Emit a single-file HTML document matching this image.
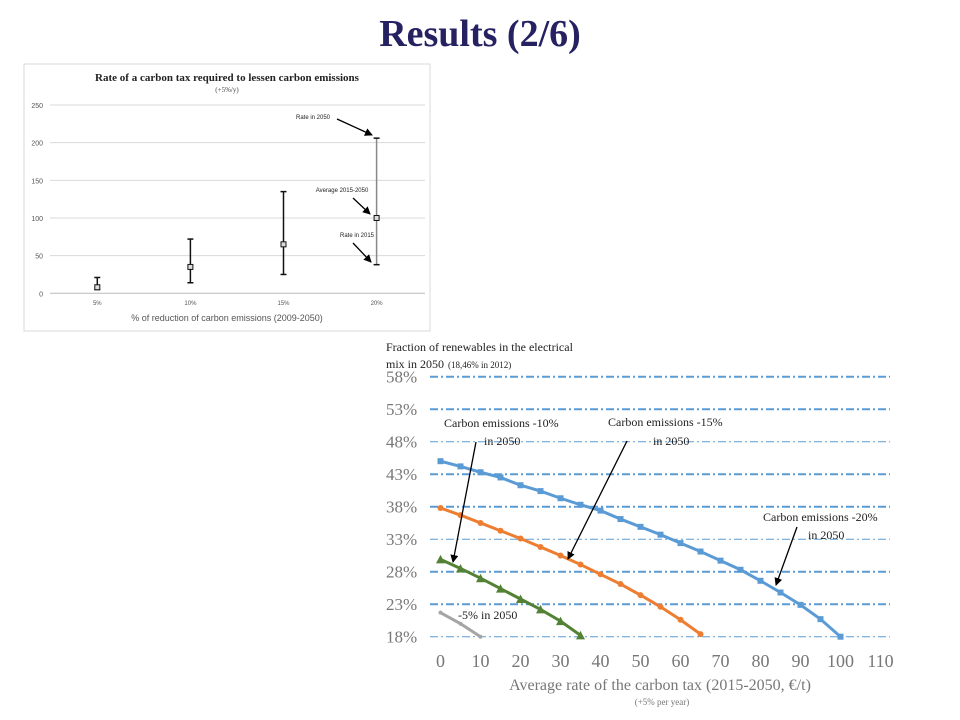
<!DOCTYPE html>
<html><head><meta charset="utf-8"><style>
html,body{margin:0;padding:0;background:#fff;width:960px;height:720px;overflow:hidden}
svg{display:block}
</style></head><body>
<svg id="s" width="960" height="720" xmlns="http://www.w3.org/2000/svg">
<defs>
<marker id="ah" markerWidth="8" markerHeight="8" refX="7" refY="4" orient="auto" markerUnits="userSpaceOnUse"><path d="M0,0 L8,4 L0,8 z" fill="#000"/></marker>
</defs>
<text x="480" y="46" text-anchor="middle" font-family="Liberation Serif, serif" font-weight="bold" font-size="38" fill="#262262">Results (2/6)</text>
<rect x="24" y="64" width="406" height="267" fill="#fff" stroke="#d9d9d9"/>
<text x="227" y="81" text-anchor="middle" font-family="Liberation Serif, serif" font-weight="bold" font-size="11" fill="#222">Rate of  a carbon tax required to lessen carbon emissions</text>
<text x="227" y="92" text-anchor="middle" font-family="Liberation Serif, serif" font-size="7" fill="#444">(+5%/y)</text>
<text x="227" y="321" text-anchor="middle" font-family="Liberation Sans, sans-serif" font-size="9" fill="#555">% of reduction of carbon emissions (2009-2050)</text>
<g id="c1"></g>
<g id="c2"></g>
</svg>
<script>
// Chart 1 data
const c1Categories = ["5%","10%","15%","20%"];
const c1Average = [8,35,65,100];
const c1Low = [5,14,25,38];
const c1High = [21,72,135,206];
const c1Ticks = [0,50,100,150,200,250];

// Chart 2 data
const c2X = [0,5,10,15,20,25,30,35,40,45,50,55,60,65,70,75,80,85,90,95,100];
const c2Blue = [45.0,44.2,43.3,42.5,41.3,40.4,39.3,38.3,37.4,36.1,34.9,33.7,32.4,31.1,29.7,28.3,26.6,24.8,22.9,20.7,18.0];
const c2Orange = [37.8,36.7,35.5,34.3,33.1,31.8,30.5,29.1,27.6,26.1,24.4,22.6,20.6,18.4];
const c2Green = [29.9,28.5,27.0,25.4,23.8,22.2,20.4,18.2];
const c2Gray = [21.7,20.0,18.0];
const c2YTicks = [18,23,28,33,38,43,48,53,58];
const c2XTicks = [0,10,20,30,40,50,60,70,80,90,100,110];

const NS="http://www.w3.org/2000/svg";
function mk(parent,tag,attrs){const e=document.createElementNS(NS,tag);for(const k in attrs)e.setAttribute(k,attrs[k]);parent.appendChild(e);return e;}

// ---- chart 1
const g1=document.getElementById('c1');
const y1=v=>293.3-v*188.3/250;
const x1=i=>97.3+i*93.1;
c1Ticks.forEach(t=>{
  const l=mk(g1,'line',{x1:50,x2:425,y1:y1(t),y2:y1(t),stroke:t===0?'#bbb':'#d9d9d9','stroke-width':1});
  
  
  const tx=mk(g1,'text',{x:43,y:y1(t)+3,'text-anchor':'end','font-family':'Liberation Sans, sans-serif','font-size':7,fill:'#555'});
  tx.textContent=t;
  
  
});
c1Categories.forEach((c,i)=>{
  const x=x1(i);
  const col=i===3?'#888':'#111';
  const eb=mk(g1,'line',{x1:x,x2:x,y1:y1(c1Low[i]),y2:y1(c1High[i]),stroke:col,'stroke-width':1.5});
  
  
  [c1Low[i],c1High[i]].forEach(v=>{
    const cap=mk(g1,'line',{x1:x-3,x2:x+3,y1:y1(v),y2:y1(v),stroke:'#111','stroke-width':1.5});
    
    
  });
  const m=mk(g1,'rect',{x:x-2.5,y:y1(c1Average[i])-2.5,width:5,height:5,fill:'#ddd',stroke:'#111','stroke-width':1});
  
  
  const tl=mk(g1,'text',{x:x,y:305,'text-anchor':'middle','font-family':'Liberation Sans, sans-serif','font-size':6,fill:'#555'});
  tl.textContent=c;
  
  
});
[["Rate in 2050",313,119,337,119,372,135],["Average 2015-2050",342,192,353,198,370,214],["Rate in 2015",357,237,353,243,371,262]].forEach(a=>{
  const t=mk(g1,'text',{x:a[1],y:a[2],'text-anchor':'middle','font-family':'Liberation Sans, sans-serif','font-size':6,fill:'#222'});
  t.textContent=a[0];
  
  
  const l=mk(g1,'line',{x1:a[3],y1:a[4],x2:a[5],y2:a[6],stroke:'#000','stroke-width':1.3,'marker-end':'url(#ah)'});
  
  
});

// ---- chart 2
const g2=document.getElementById('c2');
const x2=v=>440.5+v*4;
const y2=v=>636.7-(v-18)*6.5;
const thin={18:1,33:1,48:1};
c2YTicks.forEach(t=>{
  const l=mk(g2,'line',{x1:430,x2:890,y1:y2(t),y2:y2(t),stroke:'#5b9bd5','stroke-width':thin[t]?1:2,'stroke-dasharray':'8,3,2,3'});
  
  
  const tx=mk(g2,'text',{x:386,y:y2(t)+6,'font-family':'Liberation Serif, serif','font-size':17,fill:'#777'});
  tx.textContent=t+'%';
  
  
});
c2XTicks.forEach(t=>{
  const tx=mk(g2,'text',{x:x2(t),y:667,'text-anchor':'middle','font-family':'Liberation Serif, serif','font-size':18,fill:'#777'});
  tx.textContent=t;
  
  
});
function series(vals,color,shape,name){
  const pts=vals.map((v,i)=>x2(c2X[i])+','+y2(v)).join(' ');
  const pl=mk(g2,'polyline',{points:pts,fill:'none',stroke:color,'stroke-width':3});
  
  
  vals.forEach((v,i)=>{
    const x=x2(c2X[i]),y=y2(v);
    let m;
    if(shape==='sq') m=mk(g2,'rect',{x:x-3,y:y-3,width:6,height:6,fill:color});
    else if(shape==='tri') m=mk(g2,'polygon',{points:(x-4.5)+','+(y+4)+' '+(x+4.5)+','+(y+4)+' '+x+','+(y-4.5),fill:color});
    else m=mk(g2,'circle',{cx:x,cy:y,r:shape==='sm'?2:3,fill:color});
    
    
  });
}
series(c2Blue,'#5b9bd5','sq','series-minus20');
series(c2Orange,'#ed7d31','dot','series-minus15');
series(c2Green,'#548235','tri','series-minus10');
series(c2Gray,'#a5a5a5','sm','series-minus5');

function txt(s,x,y,size,name,anchor,fill){
  const t=mk(g2,'text',{x:x,y:y,'font-family':'Liberation Serif, serif','font-size':size,fill:fill||'#222','text-anchor':anchor||'start'});
  t.textContent=s;
  
  
}
txt('Fraction of renewables in the electrical',386,351,12,'chart2-y-title-line1');
txt('mix in 2050',386,368,12,'chart2-y-title-line2');
txt('(18,46% in 2012)',448,368,9,'chart2-y-title-note');
txt('Average rate of  the carbon tax (2015-2050, €/t)',660,690,16,'chart2-x-axis-title','middle','#777');
txt('(+5% per year)',662,705,9,'chart2-x-axis-subtitle','middle','#777');
txt('Carbon emissions -10%',444,427,12,'annotation-minus10');
txt('in 2050',484,445,12,'annotation-minus10-line2');
txt('Carbon emissions -15%',608,426,12,'annotation-minus15');
txt('in 2050',653,445,12,'annotation-minus15-line2');
txt('Carbon emissions -20%',763,521,12,'annotation-minus20');
txt('in 2050',808,539,12,'annotation-minus20-line2');
txt('-5% in 2050',458,619,12,'annotation-minus5');
[[476,442,453,562],[627,441,568,559],[797,527,776,585]].forEach(a=>{
  const l=mk(g2,'line',{x1:a[0],y1:a[1],x2:a[2],y2:a[3],stroke:'#000','stroke-width':1.3,'marker-end':'url(#ah)'});
  
  
});
</script>
</body></html>
